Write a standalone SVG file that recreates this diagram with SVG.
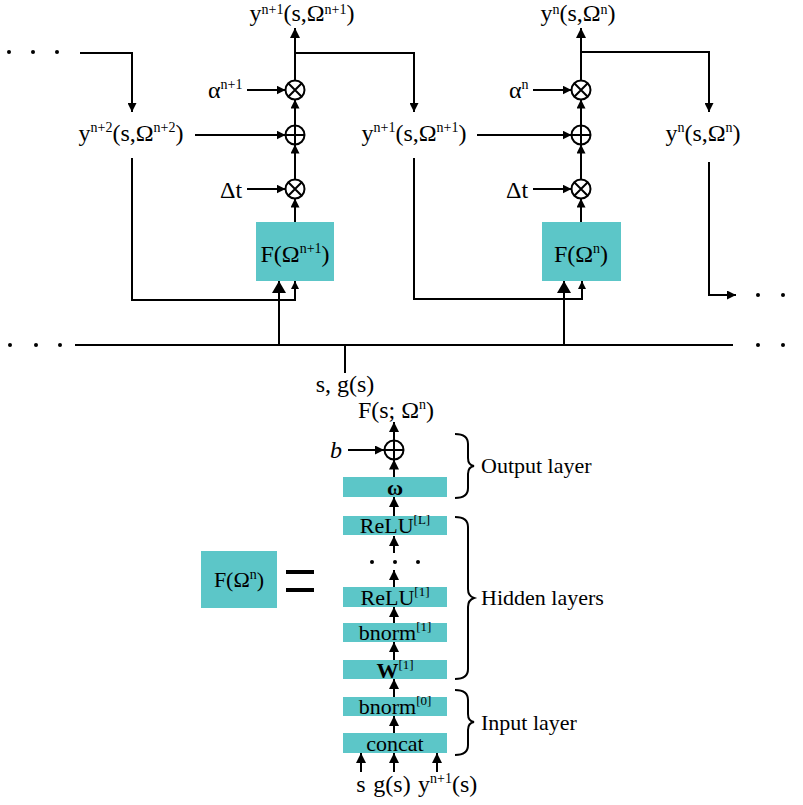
<svg xmlns="http://www.w3.org/2000/svg" width="803" height="805" viewBox="0 0 803 805">
<style>
text{font-family:"Liberation Serif","Times New Roman",serif;fill:#000}
.l{font-size:24px}
.b{font-size:22px}
.s{font-size:14px}
.s2{font-size:13px}
.m{text-anchor:middle}
.ln{fill:none;stroke:#000;stroke-width:2}
.box{fill:#5cc6c8}
.op{fill:#fff;stroke:#000;stroke-width:2}
.dot{fill:#000}
</style>
<defs>
<marker id="ah" viewBox="0 0 10 10" refX="10" refY="5" markerWidth="9" markerHeight="9" markerUnits="userSpaceOnUse" orient="auto"><path d="M0,0 L10,5 L0,10 z"/></marker>
<marker id="at" viewBox="0 0 10 10" refX="10" refY="5" markerWidth="10" markerHeight="10" markerUnits="userSpaceOnUse" orient="auto"><path d="M0,0 L10,5 L0,10 z"/></marker>
<marker id="ab" viewBox="0 0 10 10" refX="10" refY="5" markerWidth="12" markerHeight="14" markerUnits="userSpaceOnUse" orient="auto" preserveAspectRatio="none"><path d="M0,0 L10,5 L0,10 z"/></marker>
<marker id="as" viewBox="0 0 10 10" refX="10" refY="5" markerWidth="8" markerHeight="8" markerUnits="userSpaceOnUse" orient="auto"><path d="M0,0 L10,5 L0,10 z"/></marker>
</defs>

<g id="connectors">
<path class="ln" d="M80,53 L132,53 L132,112" marker-end="url(#ah)"/>
<path class="ln" d="M247,90 L285.5,90" marker-end="url(#ah)"/>
<path class="ln" d="M195,135 L285.5,135" marker-end="url(#ah)"/>
<path class="ln" d="M247,189 L285.5,189" marker-end="url(#ah)"/>
<path class="ln" d="M295,222 L295,198.5" marker-end="url(#ah)"/>
<path class="ln" d="M295,179.5 L295,144.5" marker-end="url(#ah)"/>
<path class="ln" d="M295,125.5 L295,99.5" marker-end="url(#ah)"/>
<path class="ln" d="M295,80.5 L295,28" marker-end="url(#at)"/>
<path class="ln" d="M295,53 L414,53 L414,112" marker-end="url(#ah)"/>
<path class="ln" d="M132,158 L132,300 L295,300 L295,281" marker-end="url(#as)"/>
<path class="ln" d="M279,345 L279,281" marker-end="url(#ab)"/>
<path class="ln" d="M533,90 L571.5,90" marker-end="url(#ah)"/>
<path class="ln" d="M477,135 L571.5,135" marker-end="url(#ah)"/>
<path class="ln" d="M533,189 L571.5,189" marker-end="url(#ah)"/>
<path class="ln" d="M581,222 L581,198.5" marker-end="url(#ah)"/>
<path class="ln" d="M581,179.5 L581,144.5" marker-end="url(#ah)"/>
<path class="ln" d="M581,125.5 L581,99.5" marker-end="url(#ah)"/>
<path class="ln" d="M581,80.5 L581,28" marker-end="url(#at)"/>
<path class="ln" d="M581,52 L709,52 L709,112" marker-end="url(#ah)"/>
<path class="ln" d="M414,158 L414,299 L582,299 L582,281" marker-end="url(#as)"/>
<path class="ln" d="M564,345 L564,281" marker-end="url(#ab)"/>
<path class="ln" d="M709,162 L709,295 L736,295" marker-end="url(#ah)"/>
<path class="ln" d="M75,345 L733,345"/>
<path class="ln" d="M345,345 L345,373"/>
<path class="ln" d="M394,440.5 L394,422" marker-end="url(#at)"/>
<path class="ln" d="M348,450 L384,450" marker-end="url(#ah)"/>
<path class="ln" d="M394,477 L394,459.5" marker-end="url(#at)"/>
<path class="ln" d="M394,516 L394,497" marker-end="url(#at)"/>
<path class="ln" d="M394,553 L394,536" marker-end="url(#at)"/>
<path class="ln" d="M394,587 L394,570" marker-end="url(#at)"/>
<path class="ln" d="M394,623 L394,607" marker-end="url(#at)"/>
<path class="ln" d="M394,660 L394,642" marker-end="url(#at)"/>
<path class="ln" d="M394,697 L394,679" marker-end="url(#at)"/>
<path class="ln" d="M394,733 L394,716" marker-end="url(#at)"/>
<path class="ln" d="M361,772 L361,753" marker-end="url(#at)"/>
<path class="ln" d="M394,772 L394,753" marker-end="url(#at)"/>
<path class="ln" d="M437,772 L437,753" marker-end="url(#at)"/>
</g>

<g id="dots">
<circle class="dot" cx="9" cy="52" r="2"/><circle class="dot" cx="33" cy="52" r="2"/><circle class="dot" cx="57" cy="52" r="2"/>
<circle class="dot" cx="10" cy="345" r="2"/><circle class="dot" cx="36" cy="345" r="2"/><circle class="dot" cx="60" cy="345" r="2"/>
<circle class="dot" cx="758" cy="295" r="2"/><circle class="dot" cx="783" cy="295" r="2"/>
<circle class="dot" cx="758" cy="345" r="2"/><circle class="dot" cx="783" cy="345" r="2"/>
<circle class="dot" cx="372" cy="562" r="2"/><circle class="dot" cx="395" cy="562" r="2"/><circle class="dot" cx="418" cy="562" r="2"/>
</g>

<g id="ops-left">
<circle class="op" cx="295" cy="90" r="9.5"/><path class="ln" d="M288.3,83.3 L301.7,96.7 M301.7,83.3 L288.3,96.7"/>
<circle class="op" cx="295" cy="135" r="9.5"/><path class="ln" d="M285.5,135 L304.5,135 M295,125.5 L295,144.5"/>
<circle class="op" cx="295" cy="189" r="9.5"/><path class="ln" d="M288.3,182.3 L301.7,195.7 M301.7,182.3 L288.3,195.7"/>
</g>
<g id="ops-right">
<circle class="op" cx="581" cy="90" r="9.5"/><path class="ln" d="M574.3,83.3 L587.7,96.7 M587.7,83.3 L574.3,96.7"/>
<circle class="op" cx="581" cy="135" r="9.5"/><path class="ln" d="M571.5,135 L590.5,135 M581,125.5 L581,144.5"/>
<circle class="op" cx="581" cy="189" r="9.5"/><path class="ln" d="M574.3,182.3 L587.7,195.7 M587.7,182.3 L574.3,195.7"/>
</g>

<g id="node-F-n1">
<rect class="box" x="256" y="222" width="78" height="59"/>
<text class="l m" x="295" y="262">F(Ω<tspan class="s" dy="-9">n+1</tspan><tspan dy="9">)</tspan></text>
</g>
<g id="node-F-n">
<rect class="box" x="542" y="222" width="79" height="59"/>
<text class="l m" x="581" y="262">F(Ω<tspan class="s" dy="-9">n</tspan><tspan dy="9">)</tspan></text>
</g>

<g id="labels-top">
<text class="l m" x="302" y="21">y<tspan class="s" dy="-7">n+1</tspan><tspan dy="7">(s,Ω</tspan><tspan class="s" dy="-7">n+1</tspan><tspan dy="7">)</tspan></text>
<text class="l m" x="578" y="21">y<tspan class="s" dy="-7">n</tspan><tspan dy="7">(s,Ω</tspan><tspan class="s" dy="-7">n</tspan><tspan dy="7">)</tspan></text>
<text class="l m" x="131" y="141">y<tspan class="s" dy="-9">n+2</tspan><tspan dy="9">(s,Ω</tspan><tspan class="s" dy="-9">n+2</tspan><tspan dy="9">)</tspan></text>
<text class="l m" x="414" y="141">y<tspan class="s" dy="-9">n+1</tspan><tspan dy="9">(s,Ω</tspan><tspan class="s" dy="-9">n+1</tspan><tspan dy="9">)</tspan></text>
<text class="l m" x="703" y="141">y<tspan class="s" dy="-9">n</tspan><tspan dy="9">(s,Ω</tspan><tspan class="s" dy="-9">n</tspan><tspan dy="9">)</tspan></text>
<text class="l" x="208" y="98">α<tspan class="s" dy="-9">n+1</tspan></text>
<text class="l" x="509" y="98">α<tspan class="s" dy="-9">n</tspan></text>
<text class="l" x="220" y="198">Δt</text>
<text class="l" x="506" y="198">Δt</text>
<text class="l m" x="345" y="392">s, g(s)</text>
</g>

<g id="node-F-def">
<rect class="box" x="201" y="551" width="76" height="57"/>
<text class="b m" x="239" y="587">F(Ω<tspan class="s" dy="-8">n</tspan><tspan dy="8">)</tspan></text>
<path d="M286,572 H314 M286,590 H314" fill="none" stroke="#000" stroke-width="4"/>
</g>

<g id="output-layer">
<text class="l m" x="396" y="418">F(s; Ω<tspan class="s" dy="-9">n</tspan><tspan dy="9">)</tspan></text>
<text class="l" x="330" y="458" font-style="italic">b</text>
<circle class="op" cx="394" cy="450" r="9.5"/><path class="ln" d="M384.5,450 L403.5,450 M394,440.5 L394,459.5"/>
<rect class="box" x="343" y="477" width="104" height="20"/>
<text class="b m" x="395" y="495" font-weight="bold">ω</text>
<path class="ln" d="M455,434 Q468,434 468,444 L468,458 Q468,465 474,466 Q468,467 468,474 L468,488 Q468,498 455,498"/>
<text class="b" x="481" y="473">Output layer</text>
</g>

<g id="hidden-layers">
<rect class="box" x="343" y="516" width="104" height="19"/>
<text class="b m" x="395" y="533">ReLU<tspan class="s2" dy="-9">[L]</tspan></text>
<rect class="box" x="343" y="587" width="104" height="20"/>
<text class="b m" x="395" y="605">ReLU<tspan class="s2" dy="-9">[1]</tspan></text>
<rect class="box" x="343" y="623" width="104" height="19"/>
<text class="b m" x="395" y="640">bnorm<tspan class="s2" dy="-9">[1]</tspan></text>
<rect class="box" x="343" y="660" width="104" height="19"/>
<text class="b m" x="395" y="678"><tspan font-weight="bold">W</tspan><tspan class="s2" dy="-9">[1]</tspan></text>
<path class="ln" d="M455,517 Q468,517 468,527 L468,589 Q468,596 474,598 Q468,600 468,607 L468,669 Q468,679 455,679"/>
<text class="b" x="481" y="605">Hidden layers</text>
</g>

<g id="input-layer">
<rect class="box" x="343" y="697" width="104" height="19"/>
<text class="b m" x="395" y="714">bnorm<tspan class="s2" dy="-9">[0]</tspan></text>
<rect class="box" x="343" y="733" width="104" height="20"/>
<text class="b m" x="395" y="751">concat</text>
<path class="ln" d="M455,690 Q468,690 468,700 L468,714 Q468,721 474,722 Q468,723 468,730 L468,745 Q468,755 455,755"/>
<text class="b" x="481" y="730">Input layer</text>
<text class="l m" x="361" y="792">s</text>
<text class="l m" x="392" y="792">g(s)</text>
<text class="l" x="418" y="792">y<tspan class="s" dy="-9">n+1</tspan><tspan dy="9">(s)</tspan></text>
</g>
</svg>
